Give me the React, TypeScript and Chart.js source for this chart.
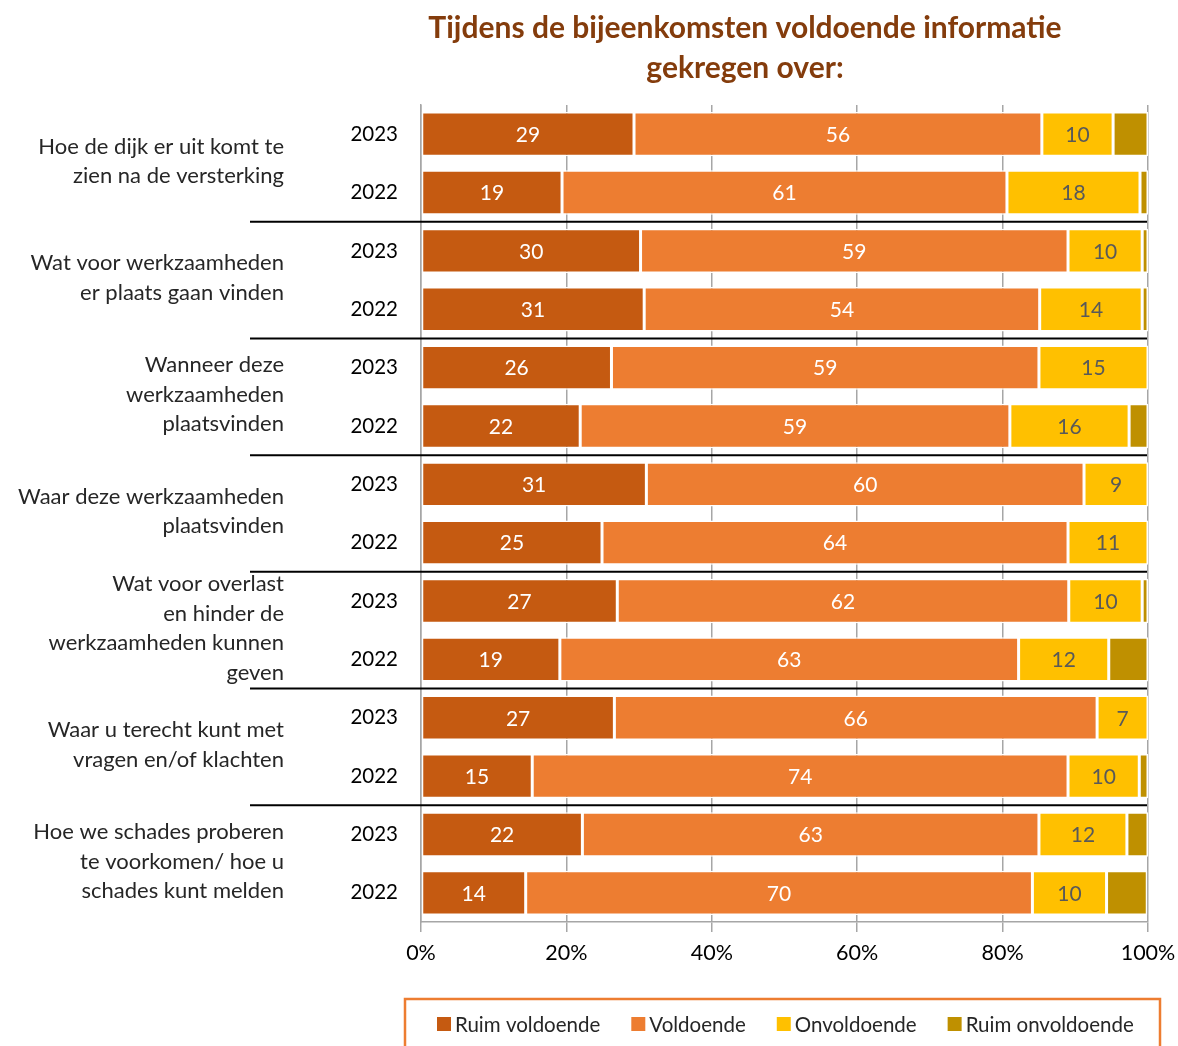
import React, { useEffect, useRef } from "react";
import { Chart, registerables } from "chart.js";

Chart.register(...registerables);

const titleLines = ["Tijdens de bijeenkomsten voldoende informatie", "gekregen over:"];

const years = ["2023", "2022", "2023", "2022", "2023", "2022", "2023", "2022", "2023", "2022", "2023", "2022", "2023", "2022"];

const groupLabels = [
  ["Hoe de dijk er uit komt te", "zien na de versterking"],
  ["Wat voor werkzaamheden", "er plaats gaan vinden"],
  ["Wanneer deze", "werkzaamheden", "plaatsvinden"],
  ["Waar deze werkzaamheden", "plaatsvinden"],
  ["Wat voor overlast", "en hinder de", "werkzaamheden kunnen", "geven"],
  ["Waar u terecht kunt met", "vragen en/of klachten"],
  ["Hoe we schades proberen", "te voorkomen/ hoe u", "schades kunt melden"],
];

const seriesNames = ["Ruim voldoende", "Voldoende", "Onvoldoende", "Ruim onvoldoende"];
const seriesColors = ["#C55A11", "#ED7D31", "#FFC000", "#BF9000"];

const ruimVoldoende = [29.3, 19.4, 30.2, 30.7, 26.2, 21.9, 31.0, 24.9, 27.0, 19.1, 26.6, 15.3, 22.2, 14.4];
const voldoende = [56.1, 61.2, 58.8, 54.4, 58.8, 59.1, 60.2, 64.1, 62.1, 63.1, 66.4, 73.7, 62.8, 69.7];
const onvoldoende = [9.8, 18.3, 10.2, 14.1, 15.0, 16.4, 8.8, 11.0, 10.1, 12.4, 7.0, 9.8, 12.1, 10.2];
const ruimOnvoldoende = [4.8, 1.1, 0.8, 0.8, 0, 2.6, 0, 0, 0.8, 5.4, 0, 1.2, 2.9, 5.6];

const xTicks = [0, 20, 40, 60, 80, 100];

const FONT = "Lato, 'Open Sans', sans-serif";

const overlayPlugin = {
  id: "overlay",
  afterDatasetsDraw(chart: any) {
    const ctx = chart.ctx;
    const yScale = chart.scales.y;
    const area = chart.chartArea;
    ctx.save();
    // data labels
    chart.data.datasets.forEach((ds: any, di: number) => {
      if (di > 2) return;
      const meta = chart.getDatasetMeta(di);
      meta.data.forEach((el: any, i: number) => {
        const v = ds.data[i];
        if (!v) return;
        const { x, base, y } = el.getProps(["x", "base", "y"], true);
        ctx.font = `21px ${FONT}`;
        ctx.fillStyle = di === 2 ? "#595959" : "#FFFFFF";
        ctx.textAlign = "center";
        ctx.textBaseline = "middle";
        ctx.fillText(String(Math.round(v)), (x + base) / 2, y + 1);
      });
    });
    // separators
    ctx.strokeStyle = "#000000";
    ctx.lineWidth = 2;
    for (let g = 0; g < groupLabels.length - 1; g++) {
      const yy = (yScale.getPixelForValue(2 * g + 1) + yScale.getPixelForValue(2 * g + 2)) / 2;
      ctx.beginPath();
      ctx.moveTo(250, yy);
      ctx.lineTo(area.right - 1, yy);
      ctx.stroke();
    }
    // group labels
    ctx.font = `22px ${FONT}`;
    ctx.fillStyle = "#262626";
    ctx.textAlign = "right";
    ctx.textBaseline = "middle";
    const lh = 29.5;
    groupLabels.forEach((lines, g) => {
      const cy = (yScale.getPixelForValue(2 * g) + yScale.getPixelForValue(2 * g + 1)) / 2 - 2;
      const start = cy - ((lines.length - 1) * lh) / 2;
      lines.forEach((t, k) => ctx.fillText(t, 284, start + k * lh));
    });
    // title
    ctx.font = `bold 30px ${FONT}`;
    ctx.fillStyle = "#843C0C";
    ctx.textAlign = "center";
    ctx.fillText(titleLines[0], 745, 28);
    ctx.fillText(titleLines[1], 745, 68);
    // legend box
    ctx.strokeStyle = "#ED7D31";
    ctx.lineWidth = 2.5;
    ctx.strokeRect(405, 999, 755, 80);
    ctx.font = `20.5px ${FONT}`;
    ctx.textAlign = "left";
    let lx = 437;
    seriesNames.forEach((n, i) => {
      ctx.fillStyle = seriesColors[i];
      ctx.fillRect(lx, 1017, 14, 14);
      ctx.fillStyle = "#262626";
      ctx.fillText(n, lx + 18, 1025);
      lx += 18 + ctx.measureText(n).width + 31;
    });
    ctx.restore();
  },
};

export default function App() {
  const ref = useRef<HTMLCanvasElement | null>(null);
  useEffect(() => {
    if (!ref.current) return;
    const values = [ruimVoldoende, voldoende, onvoldoende, ruimOnvoldoende];
    const chart = new Chart(ref.current, {
      type: "bar",
      data: {
        labels: years,
        datasets: seriesNames.map((n, i) => ({
          label: n,
          data: values[i],
          backgroundColor: seriesColors[i],
          borderColor: "#FFFFFF",
          borderWidth: 1.5,
          borderSkipped: false,
          barPercentage: 0.76,
          categoryPercentage: 1,
        })),
      },
      options: {
        indexAxis: "y",
        animation: false,
        responsive: false,
        devicePixelRatio: 1,
        layout: { padding: { left: 0, top: 105, right: 30, bottom: 64 } },
        plugins: { legend: { display: false }, tooltip: { enabled: false }, title: { display: false } },
        scales: {
          x: {
            stacked: true,
            min: 0,
            max: 100,
            afterBuildTicks: (s: any) => {
              s.ticks = xTicks.map((v) => ({ value: v }));
            },
            afterFit: (s: any) => {
              s.height = 60;
              s.paddingLeft = 0;
              s.paddingRight = 0;
            },
            ticks: {
              callback: (v: any) => v + "%",
              font: { size: 21.5, family: FONT },
              color: "#000000",
              padding: 8,
              maxRotation: 0,
            },
            grid: { display: true, color: "#A6A6A6", lineWidth: 1.5, tickLength: 10, drawOnChartArea: true },
            border: { display: true, color: "#A6A6A6", width: 1.5 },
          },
          y: {
            stacked: true,
            afterFit: (s: any) => {
              s.width = 421;
            },
            ticks: {
              font: { size: 20.5, family: FONT },
              color: "#000000",
              padding: 15,
            },
            grid: { display: false },
            border: { display: true, color: "#A6A6A6", width: 1.5 },
          },
        },
      },
      plugins: [overlayPlugin],
    } as any);
    return () => chart.destroy();
  }, []);
  return (
    <canvas
      ref={ref}
      width={1178}
      height={1046}
      style={{ position: "absolute", left: 0, top: 0, width: 1178, height: 1046 }}
    />
  );
}
